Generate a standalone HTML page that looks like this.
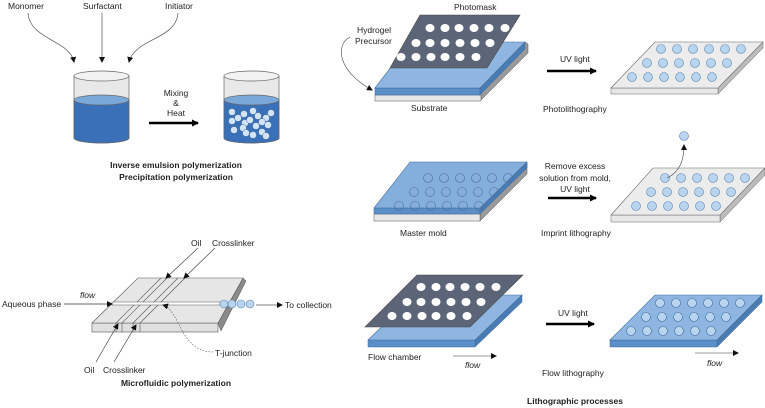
<!DOCTYPE html>
<html><head><meta charset="utf-8"><style>
html,body{margin:0;padding:0;background:#fff;}
svg{display:block;}
text{font-family:"Liberation Sans",Arial,sans-serif;font-size:8.5px;fill:#222;}
.b{font-weight:bold;}
.i{font-style:italic;}
</style></head><body>
<svg width="765" height="408" viewBox="0 0 765 408" xmlns="http://www.w3.org/2000/svg">
<defs>
<marker id="a" markerWidth="6" markerHeight="6" refX="5" refY="3" orient="auto" markerUnits="userSpaceOnUse"><path d="M0,0 L6,3 L0,6 Z" fill="#111"/></marker>
<marker id="A" markerWidth="8" markerHeight="8" refX="6" refY="4" orient="auto" markerUnits="userSpaceOnUse"><path d="M0,0.5 L7,4 L0,7.5 Z" fill="#000"/></marker>
<g id="dots">
<circle cx="0" cy="0" r="4.5"/><circle cx="16" cy="0" r="4.5"/><circle cx="32" cy="0" r="4.5"/><circle cx="48" cy="0" r="4.5"/><circle cx="64" cy="0" r="4.5"/><circle cx="80" cy="0" r="4.5"/>
<circle cx="-14" cy="14" r="4.5"/><circle cx="2" cy="14" r="4.5"/><circle cx="18" cy="14" r="4.5"/><circle cx="34" cy="14" r="4.5"/><circle cx="50" cy="14" r="4.5"/><circle cx="66" cy="14" r="4.5"/>
<circle cx="-29" cy="28" r="4.5"/><circle cx="-13" cy="28" r="4.5"/><circle cx="3" cy="28" r="4.5"/><circle cx="19" cy="28" r="4.5"/><circle cx="35" cy="28" r="4.5"/><circle cx="51" cy="28" r="4.5"/>
</g>
<g id="holes">
<ellipse cx="0" cy="0" rx="4.5" ry="4"/><ellipse cx="15" cy="0" rx="4.5" ry="4"/><ellipse cx="29" cy="0" rx="4.5" ry="4"/><ellipse cx="44" cy="0" rx="4.5" ry="4"/><ellipse cx="59" cy="0" rx="4.5" ry="4"/><ellipse cx="75" cy="0" rx="4.5" ry="4"/>
<ellipse cx="-14" cy="15" rx="4.5" ry="4"/><ellipse cx="0" cy="15" rx="4.5" ry="4"/><ellipse cx="15" cy="15" rx="4.5" ry="4"/><ellipse cx="30" cy="15" rx="4.5" ry="4"/><ellipse cx="45" cy="15" rx="4.5" ry="4"/><ellipse cx="60" cy="15" rx="4.5" ry="4"/>
<ellipse cx="-29" cy="29" rx="4.5" ry="4"/><ellipse cx="-14" cy="29" rx="4.5" ry="4"/><ellipse cx="1" cy="29" rx="4.5" ry="4"/><ellipse cx="15" cy="29" rx="4.5" ry="4"/><ellipse cx="30" cy="29" rx="4.5" ry="4"/><ellipse cx="46" cy="29" rx="4.5" ry="4"/>
</g>
</defs>

<!-- ===== Top-left: beakers ===== -->
<text x="8" y="9">Monomer</text>
<text x="83" y="9">Surfactant</text>
<text x="165" y="9">Initiator</text>
<path d="M28,13 C30,40 70,40 74,62" fill="none" stroke="#555" stroke-width="0.7" marker-end="url(#a)"/>
<path d="M102,13 L102,62" fill="none" stroke="#555" stroke-width="0.7" marker-end="url(#a)"/>
<path d="M178,13 C176,40 135,38 129,62" fill="none" stroke="#555" stroke-width="0.7" marker-end="url(#a)"/>

<g stroke="#666" stroke-width="0.7">
<path d="M74,76 L74,138 A27.5,5 0 0 0 129,138 L129,76" fill="#e8e8e8"/>
<path d="M74,100 L74,138 A27.5,5 0 0 0 129,138 L129,100 Z" fill="#3a70b8"/>
<ellipse cx="101.5" cy="100" rx="27.5" ry="5" fill="#7aa8d8"/>
<ellipse cx="101.5" cy="76" rx="27.5" ry="5" fill="#f2f2f2"/>
</g>
<g stroke="#666" stroke-width="0.7">
<path d="M224,76 L224,138 A27.5,5 0 0 0 279,138 L279,76" fill="#e8e8e8"/>
<path d="M224,100 L224,138 A27.5,5 0 0 0 279,138 L279,100 Z" fill="#3a70b8"/>
<ellipse cx="251.5" cy="100" rx="27.5" ry="5" fill="#7aa8d8"/>
<ellipse cx="251.5" cy="76" rx="27.5" ry="5" fill="#f2f2f2"/>
</g>
<g fill="#d2e4f6" stroke="#3f6a9a" stroke-width="0.5">
<circle cx="232" cy="112" r="3.5"/><circle cx="238" cy="118" r="3.5"/><circle cx="244" cy="114" r="3.5"/><circle cx="253" cy="111" r="3.5"/><circle cx="258" cy="116" r="3.5"/><circle cx="266" cy="118" r="3.5"/><circle cx="271" cy="113" r="3.5"/>
<circle cx="232" cy="121" r="3.5"/><circle cx="245" cy="123" r="3.5"/><circle cx="250" cy="120" r="3.5"/><circle cx="256" cy="126" r="3.5"/><circle cx="262" cy="122" r="3.5"/><circle cx="268" cy="125" r="3.5"/>
<circle cx="234" cy="130" r="3.5"/><circle cx="243" cy="128" r="3.5"/><circle cx="246" cy="133" r="3.5"/><circle cx="253" cy="135" r="3.5"/><circle cx="262" cy="132" r="3.5"/><circle cx="266" cy="136" r="3.5"/>
</g>
<text x="176" y="96" text-anchor="middle">Mixing</text>
<text x="176" y="106" text-anchor="middle">&amp;</text>
<text x="176" y="116" text-anchor="middle">Heat</text>
<line x1="149" y1="123" x2="198" y2="123" stroke="#000" stroke-width="2.5" marker-end="url(#A)"/>
<text x="176" y="168" text-anchor="middle" class="b">Inverse emulsion polymerization</text>
<text x="176" y="180" text-anchor="middle" class="b">Precipitation polymerization</text>

<!-- ===== Microfluidic ===== -->
<path d="M218,323 L243,278 L246,281 L221,331 Z" fill="#8a8a8a" stroke="#555" stroke-width="0.5"/>
<rect x="92" y="323" width="126" height="9" fill="#e0e0e0" stroke="#555" stroke-width="0.6"/>
<path d="M138,278 L243,278 L218,323 L92,323 Z" fill="#e6e6e6" stroke="#555" stroke-width="0.6"/>
<g stroke="#555" stroke-width="0.6" fill="none">
<line x1="161" y1="278" x2="116" y2="323"/><line x1="167" y1="278" x2="122" y2="323"/>
<line x1="178" y1="278" x2="133" y2="323"/><line x1="185" y1="278" x2="140" y2="323"/>
<line x1="116" y1="323" x2="116" y2="332"/><line x1="122" y1="323" x2="122" y2="332"/>
<line x1="133" y1="323" x2="133" y2="332"/><line x1="140" y1="323" x2="140" y2="332"/>
</g>
<rect x="112" y="302" width="108" height="3" fill="#fff" stroke="#555" stroke-width="0.5"/>
<g fill="#b8d4ee" stroke="#5a84b0" stroke-width="0.6">
<circle cx="224" cy="304" r="4"/><circle cx="232" cy="304" r="4"/><circle cx="241" cy="304" r="4"/><circle cx="250" cy="304" r="4"/>
</g>
<text x="2" y="307">Aqueous phase</text>
<line x1="64" y1="304" x2="112" y2="304" stroke="#333" stroke-width="0.7" marker-end="url(#a)"/>
<text x="80" y="298" class="i">flow</text>
<line x1="256" y1="305" x2="282" y2="305" stroke="#555" stroke-width="0.7" marker-end="url(#a)"/>
<text x="285" y="308">To collection</text>
<text x="191" y="246">Oil</text>
<text x="212" y="246">Crosslinker</text>
<line x1="198" y1="248" x2="166" y2="278" stroke="#333" stroke-width="0.6" marker-end="url(#a)"/>
<line x1="215" y1="248" x2="184" y2="278" stroke="#333" stroke-width="0.6" marker-end="url(#a)"/>
<line x1="96" y1="362" x2="118" y2="324" stroke="#333" stroke-width="0.6" marker-end="url(#a)"/>
<line x1="114" y1="362" x2="136" y2="325" stroke="#333" stroke-width="0.6" marker-end="url(#a)"/>
<text x="84" y="373">Oil</text>
<text x="103" y="373">Crosslinker</text>
<path d="M213,352 C180,352 180,310 163,305" fill="none" stroke="#555" stroke-width="0.6" stroke-dasharray="1.5,1.5" marker-end="url(#a)"/>
<text x="215" y="356">T-junction</text>
<text x="176" y="386" text-anchor="middle" class="b">Microfluidic polymerization</text>

<!-- ===== Photolithography ===== -->
<path d="M478,88 L525,42 L528,44 L528,53 L481,100 L478,100 Z" fill="#9a9a9a" stroke="#555" stroke-width="0.5"/>
<rect x="375" y="95" width="106" height="6" fill="#e8e8e8" stroke="#555" stroke-width="0.5"/>
<rect x="375" y="88" width="105" height="7" fill="#5b8fc8" stroke="#3f6a9a" stroke-width="0.5"/>
<path d="M480,88 L525,42 L525,49 L480,95 Z" fill="#4a7cb4" stroke="#3f6a9a" stroke-width="0.5"/>
<path d="M410,42 L525,42 L480,88 L375,88 Z" fill="#8fb6e0" stroke="#3f6a9a" stroke-width="0.6"/>
<path d="M420,15 L520,15 L487,68 L390,68 Z" fill="#5b6577" stroke="#444" stroke-width="0.6"/>
<use href="#holes" x="430" y="28" fill="#fff"/>
<text x="454" y="10">Photomask</text>
<text x="357" y="33">Hydrogel</text>
<text x="355" y="44">Precursor</text>
<path d="M350,37 C336,44 336,70 372,90" fill="none" stroke="#444" stroke-width="0.6" marker-end="url(#a)"/>
<text x="411" y="111">Substrate</text>
<text x="560" y="62">UV light</text>
<line x1="547" y1="71" x2="596" y2="71" stroke="#000" stroke-width="2.5" marker-end="url(#A)"/>
<text x="543" y="112">Photolithography</text>
<path d="M718,88 L763,42 L763,48 L718,94 Z" fill="#bcbcbc" stroke="#666" stroke-width="0.5"/>
<rect x="611" y="88" width="107" height="6" fill="#e8e8e8" stroke="#666" stroke-width="0.5"/>
<path d="M655,42 L763,42 L718,88 L611,88 Z" fill="#ececec" stroke="#666" stroke-width="0.6"/>
<use href="#dots" x="661" y="49" fill="#b8d4ee" stroke="#5a84b0" stroke-width="0.6"/>

<!-- ===== Imprint ===== -->
<path d="M480,208 L527,162 L527,174 L480,221 Z" fill="#9a9a9a" stroke="#555" stroke-width="0.5"/>
<rect x="374" y="214" width="106" height="7" fill="#e8e8e8" stroke="#555" stroke-width="0.5"/>
<rect x="374" y="208" width="106" height="6" fill="#5b8fc8" stroke="#3f6a9a" stroke-width="0.5"/>
<path d="M480,208 L527,162 L527,168 L480,214 Z" fill="#4a7cb4" stroke="#3f6a9a" stroke-width="0.5"/>
<path d="M410,162 L527,162 L480,208 L374,208 Z" fill="#84aedb" stroke="#3f6a9a" stroke-width="0.6"/>
<use href="#dots" x="428" y="178" fill="none" stroke="#4a6f98" stroke-width="0.6"/>
<text x="400" y="236">Master mold</text>
<text x="575" y="169" text-anchor="middle">Remove excess</text>
<text x="575" y="181" text-anchor="middle">solution from mold,</text>
<text x="575" y="192" text-anchor="middle">UV light</text>
<line x1="548" y1="198" x2="596" y2="198" stroke="#000" stroke-width="2.5" marker-end="url(#A)"/>
<text x="541" y="236">Imprint lithography</text>
<path d="M720,215 L765,168 L765,175 L720,222 Z" fill="#bcbcbc" stroke="#666" stroke-width="0.5"/>
<rect x="611" y="215" width="109" height="7" fill="#e8e8e8" stroke="#666" stroke-width="0.5"/>
<path d="M653,168 L765,168 L720,215 L611,215 Z" fill="#ececec" stroke="#666" stroke-width="0.6"/>
<use href="#dots" x="665" y="178" fill="#b8d4ee" stroke="#5a84b0" stroke-width="0.6"/>
<path d="M667,178 C680,172 684,160 684,145" fill="none" stroke="#444" stroke-width="0.6" marker-end="url(#a)"/>
<circle cx="684" cy="136" r="4.5" fill="#b8d4ee" stroke="#5a84b0" stroke-width="0.6"/>

<!-- ===== Flow lithography ===== -->
<path d="M475,340 L522,295 L522,302 L475,347 Z" fill="#4a7cb4" stroke="#3f6a9a" stroke-width="0.5"/>
<rect x="368" y="340" width="107" height="7" fill="#5b8fc8" stroke="#3f6a9a" stroke-width="0.5"/>
<path d="M415,295 L522,295 L475,340 L368,340 Z" fill="#8fb6e0" stroke="#3f6a9a" stroke-width="0.6"/>
<path d="M417,275 L523,275 L470,327 L365,327 Z" fill="#5b6577" stroke="#444" stroke-width="0.6"/>
<use href="#holes" x="421" y="287" fill="#fff"/>
<text x="368" y="360">Flow chamber</text>
<line x1="453" y1="356" x2="496" y2="356" stroke="#333" stroke-width="0.6" marker-end="url(#a)"/>
<text x="465" y="368" class="i">flow</text>
<text x="558" y="316">UV light</text>
<line x1="546" y1="324" x2="594" y2="324" stroke="#000" stroke-width="2.5" marker-end="url(#A)"/>
<text x="542" y="376">Flow lithography</text>
<path d="M717,340 L762,295 L762,302 L717,347 Z" fill="#4a7cb4" stroke="#3f6a9a" stroke-width="0.5"/>
<rect x="610" y="340" width="107" height="7" fill="#5b8fc8" stroke="#3f6a9a" stroke-width="0.5"/>
<path d="M655,295 L762,295 L717,340 L610,340 Z" fill="#8fb6e0" stroke="#3f6a9a" stroke-width="0.6"/>
<use href="#dots" x="660" y="303" fill="#b8d4ee" stroke="#3f6a9a" stroke-width="0.6"/>
<line x1="695" y1="353" x2="738" y2="353" stroke="#333" stroke-width="0.6" marker-end="url(#a)"/>
<text x="707" y="366" class="i">flow</text>
<text x="575" y="404" text-anchor="middle" class="b">Lithographic processes</text>
</svg>
</body></html>
